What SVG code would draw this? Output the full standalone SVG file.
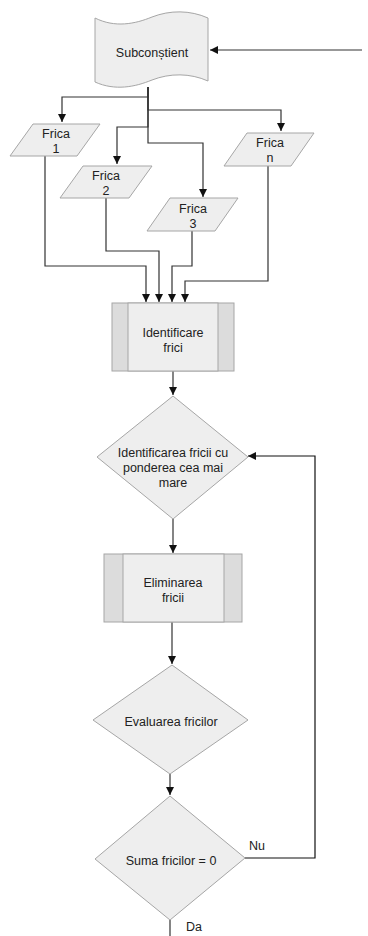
<svg xmlns="http://www.w3.org/2000/svg" width="368" height="936" viewBox="0 0 368 936">
<style>
.shape{fill:#eeeeee;stroke:#a6a6a6;stroke-width:1}
.side{fill:#dcdcdc;stroke:#a6a6a6;stroke-width:1}
.t{font-family:"Liberation Sans",Arial,sans-serif;font-size:12.5px;fill:#222;text-anchor:middle}
.c{fill:none;stroke:#333;stroke-width:1.2}
</style>
<defs>
<marker id="ah" viewBox="0 0 10 10" refX="10" refY="5" markerWidth="8" markerHeight="8" markerUnits="userSpaceOnUse" orient="auto">
<path d="M0,0 L10,5 L0,10 Z" fill="#111"/>
</marker>
</defs>
<rect width="368" height="936" fill="#ffffff"/>
<g id="connectors">
<path class="c" d="M362,50 L210,50" marker-end="url(#ah)"/>
<path class="c" d="M148,87 L148,97 L62,97 L62,122" marker-end="url(#ah)"/>
<path class="c" d="M148,87 L148,110 L281,110 L281,131" marker-end="url(#ah)"/>
<path class="c" d="M148,87 L148,127 L117,127 L117,164" marker-end="url(#ah)"/>
<path class="c" d="M148,87 L148,143 L203,143 L203,197" marker-end="url(#ah)"/>
<path class="c" d="M45,156 L45,266 L146,266 L146,302" marker-end="url(#ah)"/>
<path class="c" d="M106,198 L106,251 L159,251 L159,302" marker-end="url(#ah)"/>
<path class="c" d="M192,231 L192,266 L172,266 L172,302" marker-end="url(#ah)"/>
<path class="c" d="M268,166 L268,281 L185,281 L185,302" marker-end="url(#ah)"/>
<path class="c" d="M173,371 L173,395" marker-end="url(#ah)"/>
<path class="c" d="M173,519 L173,553" marker-end="url(#ah)"/>
<path class="c" d="M172,622 L172,664" marker-end="url(#ah)"/>
<path class="c" d="M170,774 L170,795" marker-end="url(#ah)"/>
<path class="c" d="M245,858 L315,858 L315,456 L248,456" marker-end="url(#ah)" style="stroke:#111"/>
<path class="c" d="M170,920 L170,936"/>
<text class="t" x="257" y="850">Nu</text>
<text class="t" x="194" y="931">Da</text>
</g>
<g id="subconstient">
<path class="shape" d="M95,18 C115,28 135,24 152,17 C170,10 190,10 208,18 L208,81 C190,73 170,73 152,80 C135,87 115,91 95,82 Z"/>
<text class="t" x="152" y="57">Subconștient</text>
</g>
<g id="frica1">
<path class="shape" d="M33,124 L100,124 L77,156 L10,156 Z"/>
<text class="t" x="56" y="138">Frica</text>
<text class="t" x="56" y="153">1</text>
</g>
<g id="frica2">
<path class="shape" d="M83,166 L152,166 L129,198 L60,198 Z"/>
<text class="t" x="106" y="180">Frica</text>
<text class="t" x="106" y="195">2</text>
</g>
<g id="frica3">
<path class="shape" d="M170,198 L238,198 L215,231 L147,231 Z"/>
<text class="t" x="193" y="213">Frica</text>
<text class="t" x="193" y="228">3</text>
</g>
<g id="fricaN">
<path class="shape" d="M247,133 L314,133 L291,166 L224,166 Z"/>
<text class="t" x="270" y="147">Frica</text>
<text class="t" x="270" y="162">n</text>
</g>
<g id="identificare">
<rect class="side" x="112" y="303" width="122" height="68"/>
<rect class="shape" x="128" y="303" width="90" height="68"/>
<text class="t" x="173" y="337">Identificare</text>
<text class="t" x="173" y="352">frici</text>
</g>
<g id="identificarea-ponderea">
<path class="shape" d="M173,396 L248,457 L173,519 L97,457 Z"/>
<text class="t" x="173" y="457">Identificarea fricii cu</text>
<text class="t" x="173" y="472">ponderea cea mai</text>
<text class="t" x="173" y="487">mare</text>
</g>
<g id="eliminarea">
<rect class="side" x="104" y="554" width="138" height="68"/>
<rect class="shape" x="123" y="554" width="101" height="68"/>
<text class="t" x="173" y="587">Eliminarea</text>
<text class="t" x="173" y="602">fricii</text>
</g>
<g id="evaluarea">
<path class="shape" d="M172,665 L248,720 L170,774 L93,720 Z"/>
<text class="t" x="171" y="726">Evaluarea fricilor</text>
</g>
<g id="suma">
<path class="shape" d="M170,796 L245,858 L170,920 L95,859 Z"/>
<text class="t" x="171" y="865">Suma fricilor = 0</text>
</g>
</svg>
